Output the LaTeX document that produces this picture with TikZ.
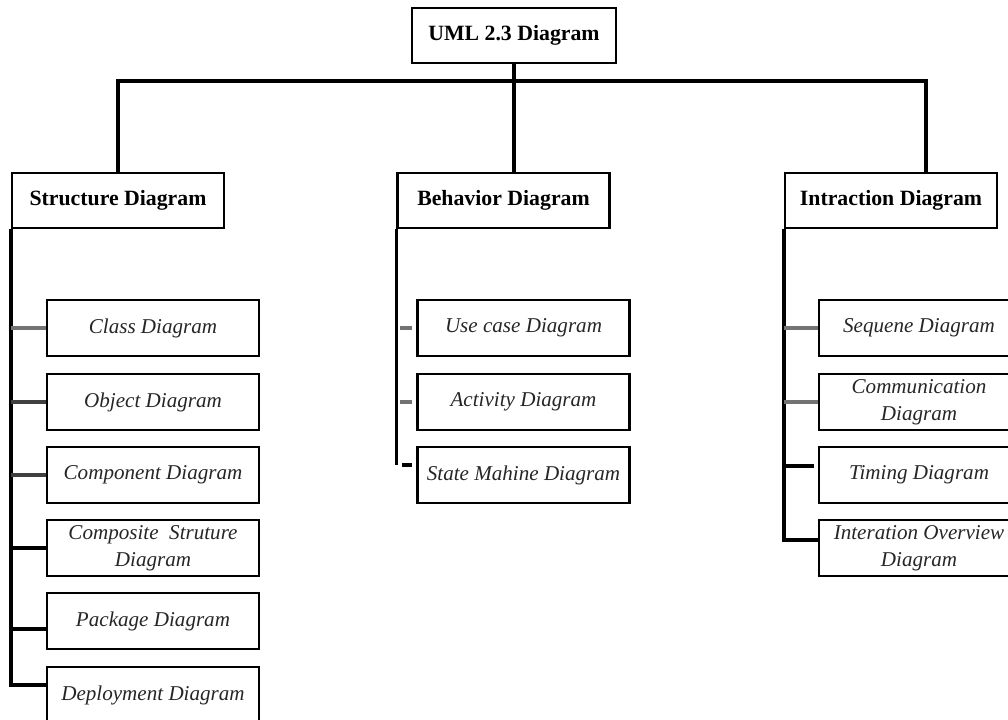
\documentclass[tikz,border=0pt]{standalone}
\usepackage{fontspec}
\setmainfont{Liberation Serif}
\begin{document}
\begin{tikzpicture}
            \tikzset{
                headbox/.style={draw, line width=1.5pt, inner sep=0pt, minimum width=5.3cm, minimum height=1.375cm, font=\fontsize{15.5}{18}\selectfont\bfseries},
                itembox/.style={draw, line width=1.5pt, inner sep=0pt, minimum width=5.3cm, minimum height=1.4cm, align=center, text=black!85, font=\fontsize{15}{19.5}\selectfont\itshape},
                trunk/.style={line width=2.4pt},
                twig/.style={line width=2.2pt}
            }
            \definecolor{linkgray}{gray}{0.45};
            \definecolor{linkdark}{gray}{0.25};
            \useasboundingbox (0,0) rectangle (25.2,-17.975);
            
            % top and the three groups
            \node[headbox, minimum width=5.1cm] (uml) at (12.85,-0.8875){UML 2.3 Diagram};
            \node[headbox] (sd) at (2.95,-5.0125){Structure Diagram};
            \node[headbox] (bd) at (12.5875,-5.0125){Behavior Diagram};
            \node[headbox] (id) at (22.275,-5.0125){Intraction Diagram};
            
            \coordinate (bar) at (12.85,-2.025);
            \coordinate (idtop) at ([xshift=0.875cm]id.north);
            \draw[trunk] (sd.north) |- (bar) -| (idtop);
            \draw[trunk] (uml.south) -- (uml.south |- bd.north);
            
            % structure diagrams
            \node[itembox] (cls) at (3.825,-8.2){Class Diagram};
            \node[itembox] (obj) at (3.825,-10.05){Object Diagram};
            \node[itembox] (cmp) at (3.825,-11.875){Component Diagram};
            \node[itembox] (cst) at (3.825,-13.7){Composite\ \ Struture\\Diagram};
            \node[itembox] (pkg) at (3.825,-15.525){Package Diagram};
            \node[itembox] (dep) at (3.825,-17.375){Deployment Diagram};
            
            \coordinate (pkgj) at ([yshift=-0.2cm]pkg.west);
            \coordinate (depj) at ([yshift=0.25cm]dep.west);
            \draw[trunk] (sd.south west) |- (depj);
            \draw[twig, linkgray] (sd.south west |- cls.west) -- (cls.west);
            \draw[twig, linkdark] (sd.south west |- obj.west) -- (obj.west);
            \draw[twig, linkdark] (sd.south west |- cmp.west) -- (cmp.west);
            \draw[twig] (sd.south west |- cst.west) -- (cst.west);
            \draw[twig] (sd.south west |- pkgj) -- (pkgj);
            
            % behavior diagrams
            \node[itembox] (uc) at (13.0875,-8.2){Use case Diagram};
            \node[itembox] (act) at (13.0875,-10.05){Activity Diagram};
            \node[itembox] (sm) at (13.0875,-11.875){State Mahine Diagram};
            
            \coordinate (smj) at ([yshift=0.25cm]sm.west);
            \draw[trunk] (bd.south west) -- (bd.south west |- smj);
            \draw[twig, linkgray, shorten <=0.1cm, shorten >=0.1cm] (bd.south west |- uc.west) -- (uc.west);
            \draw[twig, linkgray, shorten <=0.1cm, shorten >=0.1cm] (bd.south west |- act.west) -- (act.west);
            \draw[twig, shorten <=0.15cm, shorten >=0.1cm] (bd.south west |- smj) -- (smj);
            
            % interaction diagrams
            \node[itembox, minimum width=5cm] (seq) at (22.975,-8.2){Sequene Diagram};
            \node[itembox, minimum width=5cm] (com) at (22.975,-10.05){Communication\\Diagram};
            \node[itembox, minimum width=5cm] (tim) at (22.975,-11.875){Timing Diagram};
            \node[itembox, minimum width=5cm] (ovw) at (22.975,-13.7){Interation Overview\\Diagram};
            
            \coordinate (timj) at ([yshift=0.225cm]tim.west);
            \coordinate (ovwj) at ([yshift=0.2cm]ovw.west);
            \draw[trunk] (id.south west) |- (ovwj);
            \draw[twig, linkgray] (id.south west |- seq.west) -- (seq.west);
            \draw[twig, linkgray] (id.south west |- com.west) -- (com.west);
            \draw[twig, shorten >=0.1cm] (id.south west |- timj) -- (timj);
            
        \end{tikzpicture}
\end{document}
